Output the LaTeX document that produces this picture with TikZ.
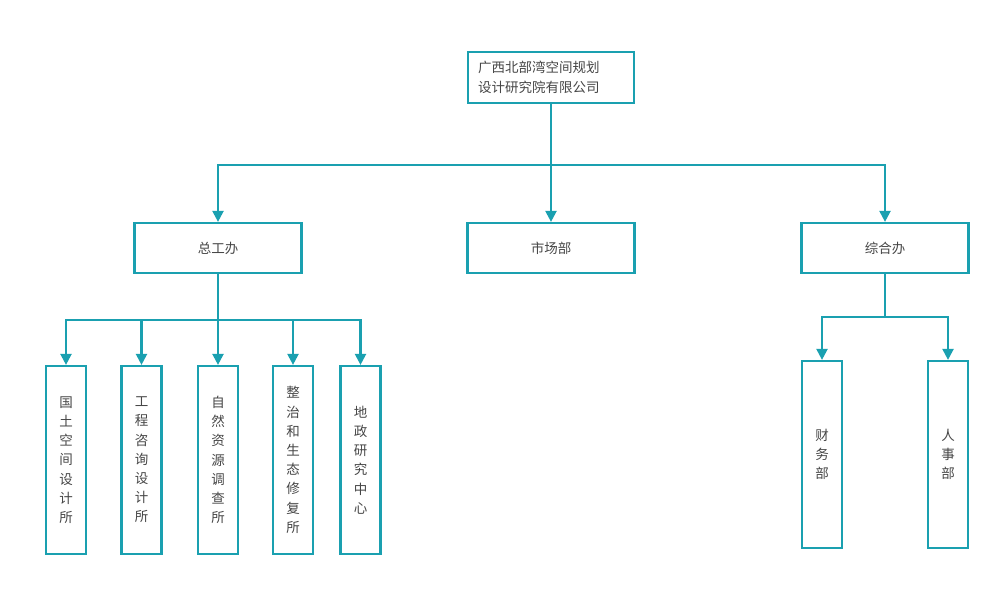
\documentclass[tikz,border=0pt]{standalone}
\usepackage{fontspec}
\setmainfont{Noto Sans CJK SC}
\usetikzlibrary{arrows.meta}
\definecolor{teal1}{RGB}{26,160,176}
\definecolor{txt}{RGB}{70,70,70}
\tikzset{
  box/.style={draw=teal1, line width=2.2pt, fill=white, text=txt, inner sep=0pt, align=center, font=\fontsize{13.5}{20}\selectfont},
  hbox/.style={box, minimum width=167pt, minimum height=50pt},
  vbox/.style={box, minimum width=40pt, minimum height=188pt, font=\fontsize{13.5}{19.2}\selectfont},
  conn/.style={draw=teal1, line width=2.2pt},
  arr/.style={conn, -{Triangle[length=11pt,width=11pt]}},
}
\begin{document}
\begin{tikzpicture}[x=1pt,y=-1pt]
\useasboundingbox (0,0) rectangle (1000,591);
\node[box, text width=146pt, inner xsep=10pt, minimum height=51pt, align=left] (top) at (551,77.5) {广西北部湾空间规划\\设计研究院有限公司};
\node[hbox] (zgb) at (218,248) {总工办};
\node[hbox] (scb) at (551,248) {市场部};
\node[hbox] (zhb) at (885,248) {综合办};
\node[vbox] (b1) at (66,460) {国\\土\\空\\间\\设\\计\\所};
\node[vbox] (b2) at (141.5,460) {工\\程\\咨\\询\\设\\计\\所};
\node[vbox] (b3) at (218,460) {自\\然\\资\\源\\调\\查\\所};
\node[vbox] (b4) at (293,460) {整\\治\\和\\生\\态\\修\\复\\所};
\node[vbox] (b5) at (360.5,460) {地\\政\\研\\究\\中\\心};
\node[vbox, minimum height=187pt] (r1) at (822,454.5) {财\\务\\部};
\node[vbox, minimum height=187pt] (r2) at (948,454.5) {人\\事\\部};
% top level
\coordinate (bus1) at (551,165);
\draw[arr] (top.south) -- (bus1) -| (zgb.north);
\draw[arr] (top.south) -- (scb.north);
\draw[arr] (bus1) -| (zhb.north);
% left group
\coordinate (bus2) at (218,320);
\draw[conn] (zgb.south) -- (bus2);
\foreach \n in {b1,b2,b3,b4,b5} \draw[arr] (bus2) -| (\n.north);
% right group
\coordinate (bus3) at (885,317);
\draw[conn] (zhb.south) -- (bus3);
\foreach \n in {r1,r2} \draw[arr] (bus3) -| (\n.north);
\end{tikzpicture}
\end{document}
